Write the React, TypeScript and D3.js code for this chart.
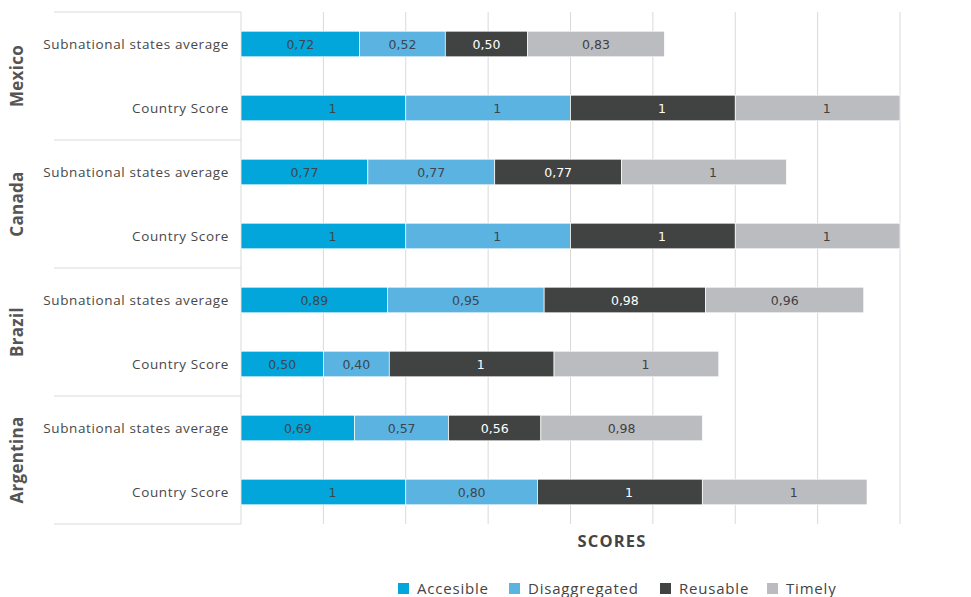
import React from "react";
import * as d3 from "d3";

const countries = ["Mexico", "Canada", "Brazil", "Argentina"];
const rowTypes = ["Subnational states average", "Country Score"];
const seriesNames = ["Accesible", "Disaggregated", "Reusable", "Timely"];
const seriesColors = ["#02A6DA", "#5AB3E0", "#414342", "#BBBCC0"];
const labelColors = ["#3d4650", "#3d4650", "#ffffff", "#404040"];

// values per row: [Accesible, Disaggregated, Reusable, Timely]
const mexicoSub = [0.72, 0.52, 0.5, 0.83];
const mexicoCountry = [1, 1, 1, 1];
const canadaSub = [0.77, 0.77, 0.77, 1];
const canadaCountry = [1, 1, 1, 1];
const brazilSub = [0.89, 0.95, 0.98, 0.96];
const brazilCountry = [0.5, 0.4, 1, 1];
const argentinaSub = [0.69, 0.57, 0.56, 0.98];
const argentinaCountry = [1, 0.8, 1, 1];

const xTicks = [0, 0.5, 1, 1.5, 2, 2.5, 3, 3.5, 4];

const rows = [
  { country: "Mexico", type: rowTypes[0], values: mexicoSub },
  { country: "Mexico", type: rowTypes[1], values: mexicoCountry },
  { country: "Canada", type: rowTypes[0], values: canadaSub },
  { country: "Canada", type: rowTypes[1], values: canadaCountry },
  { country: "Brazil", type: rowTypes[0], values: brazilSub },
  { country: "Brazil", type: rowTypes[1], values: brazilCountry },
  { country: "Argentina", type: rowTypes[0], values: argentinaSub },
  { country: "Argentina", type: rowTypes[1], values: argentinaCountry },
];

const fmt = (v: number) => (v === 1 ? "1" : v.toFixed(2).replace(".", ","));

export default function App() {
  const W = 971;
  const H = 597;
  const left = 241;
  const right = 900;
  const top = 12;
  const bottom = 524;
  const x = d3.scaleLinear().domain([0, 4]).range([left, right]);
  const y = d3
    .scaleBand<number>()
    .domain(rows.map((_, i) => i))
    .range([top, bottom])
    .paddingInner(0.6)
    .paddingOuter(0.3);
  const groupY = d3.scaleBand<string>().domain(countries).range([top, bottom]);
  const labelFont = "'Open Sans', Lato, sans-serif";

  const legendX = [398, 509, 660, 767];

  return (
    <svg
      width={W}
      height={H}
      style={{ position: "absolute", left: 0, top: 0, background: "#fff" }}
    >
      {xTicks.map((t) => (
        <line
          key={t}
          x1={x(t)}
          x2={x(t)}
          y1={top}
          y2={bottom}
          stroke="#d9d9d9"
          strokeWidth={1}
        />
      ))}
      {countries.map((c) => (
        <line
          key={c}
          x1={54}
          x2={left}
          y1={groupY(c)!}
          y2={groupY(c)!}
          stroke="#d9d9d9"
        />
      ))}
      <line x1={54} x2={left} y1={bottom} y2={bottom} stroke="#d9d9d9" />
      {countries.map((c) => (
        <text
          key={c}
          transform={`translate(23,${groupY(c)! + groupY.bandwidth() / 2}) rotate(-90)`}
          textAnchor="middle"
          fontFamily={labelFont}
          fontWeight="bold"
          fontSize={17}
          letterSpacing={0.3}
          fill="#555"
        >
          {c}
        </text>
      ))}
      {rows.map((r, i) => {
        const yy = y(i)!;
        const bh = y.bandwidth();
        let acc = 0;
        return (
          <g key={i}>
            <text
              x={229}
              y={yy + bh / 2}
              dy="0.35em"
              textAnchor="end"
              fontFamily={labelFont}
              fontSize={13.5}
              letterSpacing={0.62}
              fill="#484848"
            >
              {r.type}
            </text>
            {r.values.map((v, j) => {
              const x0 = x(acc);
              acc += v;
              const x1 = x(acc);
              return (
                <g key={j}>
                  <rect
                    x={x0}
                    y={yy}
                    width={x1 - x0}
                    height={bh}
                    fill={seriesColors[j]}
                    stroke="#fff"
                    strokeWidth={0.7}
                  />
                  <text
                    x={(x0 + x1) / 2}
                    y={yy + bh / 2}
                    dx={v === 1 ? 9 : 0}
                    dy="0.36em"
                    textAnchor="middle"
                    fontFamily="'DejaVu Sans', sans-serif"
                    fontSize={12.5}
                    fill={labelColors[j]}
                  >
                    {fmt(v)}
                  </text>
                </g>
              );
            })}
          </g>
        );
      })}
      <text
        x={612}
        y={547}
        textAnchor="middle"
        fontFamily={labelFont}
        fontWeight="bold"
        fontSize={16.5}
        letterSpacing={1.2}
        fill="#444"
      >
        SCORES
      </text>
      {seriesNames.map((s, i) => (
        <g key={s} transform={`translate(${legendX[i]},583)`}>
          <rect x={0} y={0} width={11} height={11} fill={seriesColors[i]} />
          <text
            x={19}
            y={9}
            dy="0.1em"
            fontFamily={labelFont}
            fontSize={15}
            letterSpacing={0.8}
            fill="#444"
          >
            {s}
          </text>
        </g>
      ))}
    </svg>
  );
}
